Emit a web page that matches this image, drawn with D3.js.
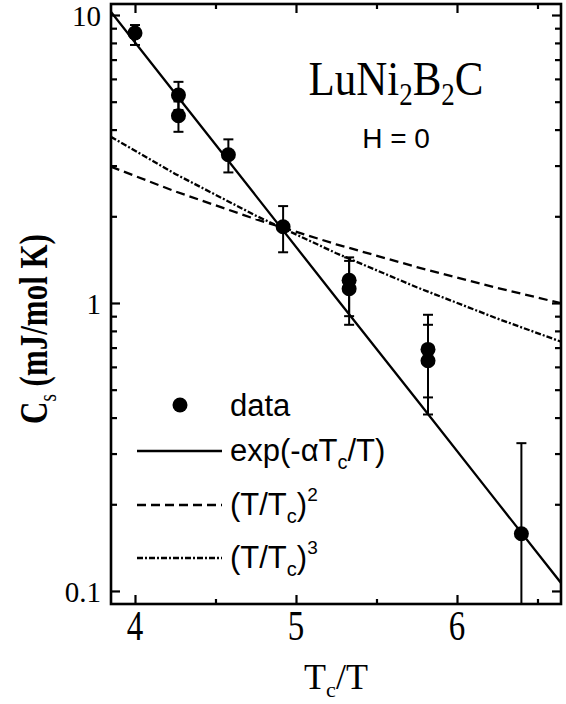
<!DOCTYPE html>
<html>
<head>
<meta charset="utf-8">
<script src="https://cdn.jsdelivr.net/npm/d3@7"></script>
<style>
body { margin: 0; background: #fff; }
svg { display: block; }
</style>
</head>
<body>
<div id="figure"></div>
<script>
// measured points: Tc/T and Cs (mJ/mol K) with error bar ends
var tRatio = [4.00, 4.27, 4.27, 4.58, 4.92, 5.33, 5.33, 5.82, 5.82, 6.40];
var cs     = [8.66, 5.27, 4.47, 3.27, 1.84, 1.20, 1.12, 0.69, 0.63, 0.158];
var csLo   = [7.87, 4.68, 3.93, 2.84, 1.50, 0.90, 0.84, 0.47, 0.41, 0.01];
var csHi   = [9.23, 5.86, 5.01, 3.70, 2.17, 1.44, 1.40, 0.91, 0.84, 0.326];

// fit curves
var fitT    = [3.85, 4.25, 4.75, 5.25, 5.75, 6.25, 6.646];
var fitExp  = [10.27, 5.34, 2.36, 1.04, 0.461, 0.2035, 0.1066];
var fitSq   = [2.974, 2.440, 1.954, 1.599, 1.333, 1.128, 0.998];
var fitCube = [3.776, 2.807, 2.011, 1.489, 1.134, 0.883, 0.734];

var xMajor = [4, 5, 6];
var xMinor = [4.5, 5.5, 6.5];
var yMajor = [0.1, 1, 10];
var yMajorLabels = ["0.1", "1", "10"];
var yMinor = [0.2, 0.3, 0.4, 0.5, 0.6, 0.7, 0.8, 0.9, 2, 3, 4, 5, 6, 7, 8, 9];

var W = 566, H = 704;
var pLeft = 111, pRight = 561, pTop = 4, pBottom = 604;

var serif = "'Liberation Serif', 'Times New Roman', serif";
var sans = "'Liberation Sans', Arial, sans-serif";

var x = d3.scaleLinear().domain([3.851, 6.646]).range([pLeft, pRight]);
var y = d3.scaleLog().domain([0.0901, 10.92]).range([pBottom, pTop]);

var svg = d3.select("#figure").append("svg")
	.attr("width", W).attr("height", H);

svg.append("defs").append("clipPath").attr("id", "plotclip")
	.append("rect")
	.attr("x", pLeft).attr("y", pTop)
	.attr("width", pRight - pLeft).attr("height", pBottom - pTop);

var plot = svg.append("g").attr("clip-path", "url(#plotclip)");

// fit lines
var line = d3.line()
	.x(function(d) { return x(d[0]); })
	.y(function(d) { return y(d[1]); });

var curves = [
	{ vals: fitExp,  dash: null },
	{ vals: fitSq,   dash: "9,5" },
	{ vals: fitCube, dash: "6,2,2,2" }
];

curves.forEach(function(c) {
	plot.append("path")
		.datum(fitT.map(function(t, i) { return [t, c.vals[i]]; }))
		.attr("d", line)
		.attr("fill", "none")
		.attr("stroke", "#000")
		.attr("stroke-width", 2.3)
		.attr("stroke-dasharray", c.dash);
});

// error bars
var pts = tRatio.map(function(t, i) {
	return { t: t, c: cs[i], lo: csLo[i], hi: csHi[i] };
});

plot.selectAll("line.err")
	.data(pts)
	.enter()
	.append("line")
	.attr("class", "err")
	.attr("x1", function(d) { return x(d.t); })
	.attr("x2", function(d) { return x(d.t); })
	.attr("y1", function(d) { return y(d.lo); })
	.attr("y2", function(d) { return y(d.hi); })
	.attr("stroke", "#000")
	.attr("stroke-width", 2);

var caps = [];
pts.forEach(function(d) { caps.push([d.t, d.lo]); caps.push([d.t, d.hi]); });

plot.selectAll("line.cap")
	.data(caps)
	.enter()
	.append("line")
	.attr("class", "cap")
	.attr("x1", function(d) { return x(d[0]) - 5; })
	.attr("x2", function(d) { return x(d[0]) + 5; })
	.attr("y1", function(d) { return y(d[1]); })
	.attr("y2", function(d) { return y(d[1]); })
	.attr("stroke", "#000")
	.attr("stroke-width", 2);

plot.selectAll("circle.pt")
	.data(pts)
	.enter()
	.append("circle")
	.attr("class", "pt")
	.attr("cx", function(d) { return x(d.t); })
	.attr("cy", function(d) { return y(d.c); })
	.attr("r", 7.5)
	.attr("fill", "#000");

// axes: ticks on all four sides, pointing in
function tickAxis(axis, vals, size, tr) {
	var g = svg.append("g").attr("transform", tr)
		.call(axis.tickValues(vals).tickSize(size).tickFormat(""));
	g.select(".domain").remove();
	g.selectAll(".tick line").attr("stroke", "#000").attr("stroke-width", 2.2);
	return g;
}

tickAxis(d3.axisBottom(x), xMajor, -9, "translate(0," + pBottom + ")");
tickAxis(d3.axisBottom(x), xMinor, -5, "translate(0," + pBottom + ")");
tickAxis(d3.axisTop(x), xMajor, -9, "translate(0," + pTop + ")");
tickAxis(d3.axisTop(x), xMinor, -5, "translate(0," + pTop + ")");
tickAxis(d3.axisLeft(y), yMajor, -9, "translate(" + pLeft + ",0)");
tickAxis(d3.axisLeft(y), yMinor, -6, "translate(" + pLeft + ",0)");
tickAxis(d3.axisRight(y), yMajor, -9, "translate(" + pRight + ",0)");
tickAxis(d3.axisRight(y), yMinor, -6, "translate(" + pRight + ",0)");

svg.append("rect")
	.attr("x", pLeft).attr("y", pTop)
	.attr("width", pRight - pLeft).attr("height", pBottom - pTop)
	.attr("fill", "none")
	.attr("stroke", "#000")
	.attr("stroke-width", 2.6);

// tick labels
svg.selectAll("g.xlab")
	.data(xMajor)
	.enter()
	.append("g")
	.attr("class", "xlab")
	.attr("transform", function(d) { return "translate(" + x(d) + ",640) scale(1,1.25)"; })
	.append("text")
	.attr("text-anchor", "middle")
	.attr("font-family", serif)
	.attr("font-size", "33px")
	.text(function(d) { return d; });

svg.selectAll("text.ylab")
	.data(yMajor)
	.enter()
	.append("text")
	.attr("class", "ylab")
	.attr("x", 101)
	.attr("y", function(d) { return y(d) + 11; })
	.attr("text-anchor", "end")
	.attr("font-family", serif)
	.attr("font-size", "29px")
	.text(function(d, i) { return yMajorLabels[i]; });

// axis titles
var xt = svg.append("text")
	.attr("x", 336).attr("y", 689)
	.attr("text-anchor", "middle")
	.attr("font-family", serif)
	.attr("font-size", "36px");
xt.append("tspan").text("T");
xt.append("tspan").attr("dy", 8).attr("font-size", "22px").text("c");
xt.append("tspan").attr("dy", -8).text("/T");

var yt = svg.append("g")
	.attr("transform", "translate(47,329) rotate(-90) scale(1,1.28)")
	.append("text")
	.attr("text-anchor", "middle")
	.attr("font-family", serif)
	.attr("font-weight", "bold")
	.attr("font-size", "31px");
yt.append("tspan").text("C");
yt.append("tspan").attr("dy", 7).attr("font-size", "19px").attr("font-weight", "normal").text("s");
yt.append("tspan").attr("dy", -7).text(" (mJ/mol K)");

// sample annotation
var title = svg.append("g")
	.attr("transform", "translate(396,95) scale(1,1.15)")
	.append("text")
	.attr("text-anchor", "middle")
	.attr("font-family", serif)
	.attr("font-size", "43px");
title.append("tspan").text("LuNi");
title.append("tspan").attr("dy", 9).attr("font-size", "27px").text("2");
title.append("tspan").attr("dy", -9).text("B");
title.append("tspan").attr("dy", 9).attr("font-size", "27px").text("2");
title.append("tspan").attr("dy", -9).text("C");

svg.append("text")
	.attr("x", 396).attr("y", 148)
	.attr("text-anchor", "middle")
	.attr("font-family", sans)
	.attr("font-size", "28px")
	.text("H = 0");

// legend
var legX0 = 137, legX1 = 222, legText = 230;

svg.append("circle")
	.attr("cx", 180).attr("cy", 405).attr("r", 7.5).attr("fill", "#000");
svg.append("text")
	.attr("x", legText).attr("y", 416)
	.attr("font-family", sans).attr("font-size", "31px")
	.text("data");

var legRows = [
	{ y: 451, dash: null,      base: 461, parts: [["exp(-\u03B1T", 0, 31], ["c", 8, 20], ["/T)", -8, 31]] },
	{ y: 505, dash: "9,5",     base: 515, parts: [["(T/T", 0, 31], ["c", 8, 20], [")", -8, 31], ["2", -14, 19]] },
	{ y: 558, dash: "6,2,2,2", base: 568, parts: [["(T/T", 0, 31], ["c", 8, 20], [")", -8, 31], ["3", -14, 19]] }
];

legRows.forEach(function(r) {
	svg.append("line")
		.attr("x1", legX0).attr("x2", legX1)
		.attr("y1", r.y).attr("y2", r.y)
		.attr("stroke", "#000").attr("stroke-width", 2.3)
		.attr("stroke-dasharray", r.dash);
	var t = svg.append("text")
		.attr("x", legText).attr("y", r.base)
		.attr("font-family", sans);
	r.parts.forEach(function(p) {
		t.append("tspan").attr("dy", p[1]).attr("font-size", p[2] + "px").text(p[0]);
	});
});
</script>
</body>
</html>
